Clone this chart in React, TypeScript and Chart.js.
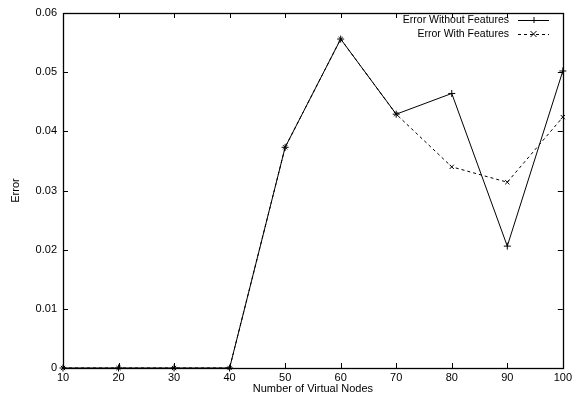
import React, { useEffect, useRef } from "react";
import { Chart, registerables } from "chart.js";

Chart.register(...registerables);

const nodes = [10, 20, 30, 40, 50, 60, 70, 80, 90, 100];
const errorWithout = [0, 0, 0, 0, 0.0373, 0.0556, 0.0429, 0.0464, 0.0206, 0.0502];
const errorWith = [0, 0, 0, 0, 0.0373, 0.0556, 0.0429, 0.034, 0.0314, 0.0424];
const yTickLabels = ["0", "0.01", "0.02", "0.03", "0.04", "0.05", "0.06"];
const seriesLabels = ["Error Without Features", "Error With Features"];

const FONT = "'Liberation Sans', Arial, Helvetica, sans-serif";

const innerTicks = {
  id: "innerTicks",
  afterDatasetsDraw(chart: any) {
    const { ctx, chartArea } = chart;
    const { left, right, top, bottom } = chartArea;
    const xs = chart.scales.x;
    const ys = chart.scales.y;
    const L = 5;
    ctx.save();
    ctx.strokeStyle = "#000";
    ctx.lineWidth = 1;
    ctx.beginPath();
    xs.ticks.forEach((t: any) => {
      const px = Math.round(xs.getPixelForValue(t.value)) + 0.5;
      ctx.moveTo(px, bottom);
      ctx.lineTo(px, bottom - L);
      ctx.moveTo(px, top);
      ctx.lineTo(px, top + L);
    });
    ys.ticks.forEach((t: any) => {
      const py = Math.round(ys.getPixelForValue(t.value)) + 0.5;
      ctx.moveTo(left, py);
      ctx.lineTo(left + L, py);
      ctx.moveTo(right, py);
      ctx.lineTo(right - L, py);
    });
    ctx.stroke();
    ctx.lineWidth = 1.3;
    ctx.strokeRect(Math.round(left) + 0.5, Math.round(top) + 0.5, Math.round(right - left), Math.round(bottom - top));
    ctx.restore();
  },
};

const legendRight = {
  id: "legendRight",
  afterDraw(chart: any) {
    const { ctx } = chart;
    const textRight = 509;
    const x0 = 518;
    const x1 = 549;
    ctx.save();
    ctx.font = `10.5px ${FONT}`;
    ctx.fillStyle = "#000";
    ctx.textAlign = "right";
    ctx.textBaseline = "middle";
    chart.data.datasets.forEach((ds: any, i: number) => {
      const y = 20 + i * 14;
      ctx.fillText(ds.label, textRight, y);
      ctx.strokeStyle = "#000";
      ctx.lineWidth = 1;
      ctx.setLineDash(ds.borderDash || []);
      ctx.beginPath();
      ctx.moveTo(x0, y + 0.5);
      ctx.lineTo(x1, y + 0.5);
      ctx.stroke();
      ctx.setLineDash([]);
      const cx = (x0 + x1) / 2;
      const r = 3;
      ctx.beginPath();
      if (ds.pointStyle === "cross") {
        ctx.moveTo(cx - r, y + 0.5);
        ctx.lineTo(cx + r, y + 0.5);
        ctx.moveTo(cx + 0.5, y - r);
        ctx.lineTo(cx + 0.5, y + r);
      } else {
        ctx.moveTo(cx - r, y - r);
        ctx.lineTo(cx + r, y + r);
        ctx.moveTo(cx + r, y - r);
        ctx.lineTo(cx - r, y + r);
      }
      ctx.stroke();
    });
    ctx.restore();
  },
};

export default function App() {
  const ref = useRef<HTMLCanvasElement | null>(null);
  useEffect(() => {
    document.body.style.margin = "0";
    if (!ref.current) return;
    const chart = new Chart(ref.current, {
      type: "line",
      data: {
        datasets: [
          {
            label: seriesLabels[0],
            data: nodes.map((n, i) => ({ x: n, y: errorWithout[i] })),
            borderColor: "#000",
            backgroundColor: "#000",
            borderWidth: 1,
            pointStyle: "cross",
            pointRadius: 3.5,
            pointBorderWidth: 1,
            pointBorderColor: "#000",
            clip: false,
            tension: 0,
          },
          {
            label: seriesLabels[1],
            data: nodes.map((n, i) => ({ x: n, y: errorWith[i] })),
            borderColor: "#000",
            backgroundColor: "#000",
            borderWidth: 1,
            borderDash: [3, 3],
            pointStyle: "crossRot",
            pointRadius: 3,
            pointBorderWidth: 1,
            pointBorderColor: "#000",
            clip: false,
            tension: 0,
          },
        ],
      },
      options: {
        animation: false,
        responsive: false,
        devicePixelRatio: 1,
        layout: { padding: { left: 0, top: 13, right: 12, bottom: 0 } },
        plugins: { legend: { display: false }, tooltip: { enabled: false } },
        scales: {
          x: {
            type: "linear",
            min: 10,
            max: 100,
            afterFit(s: any) {
              s.height = 36;
            },
            ticks: {
              stepSize: 10,
              color: "#000",
              font: { family: FONT, size: 11 },
              padding: 3,
              maxRotation: 0,
            },
            grid: { display: false, drawTicks: false },
            border: { display: false },
            title: {
              display: true,
              text: "Number of Virtual Nodes",
              color: "#000",
              font: { family: FONT, size: 11 },
              padding: { top: 0, bottom: 8 },
            },
          },
          y: {
            type: "linear",
            min: 0,
            max: 0.06,
            afterFit(s: any) {
              s.width = 63;
            },
            ticks: {
              stepSize: 0.01,
              color: "#000",
              font: { family: FONT, size: 11 },
              padding: 6,
              callback: (_v: any, i: number) => yTickLabels[i],
            },
            grid: { display: false, drawTicks: false },
            border: { display: false },
            title: {
              display: true,
              text: "Error",
              color: "#000",
              font: { family: FONT, size: 11 },
              padding: { top: 9, bottom: 0 },
            },
          },
        },
      },
      plugins: [innerTicks, legendRight],
    } as any);
    return () => chart.destroy();
  }, []);
  return (
    <div style={{ position: "absolute", left: 0, top: 0, width: 575, height: 404, background: "#fff" }}>
      <canvas ref={ref} width={575} height={404} style={{ width: 575, height: 404 }} />
    </div>
  );
}
